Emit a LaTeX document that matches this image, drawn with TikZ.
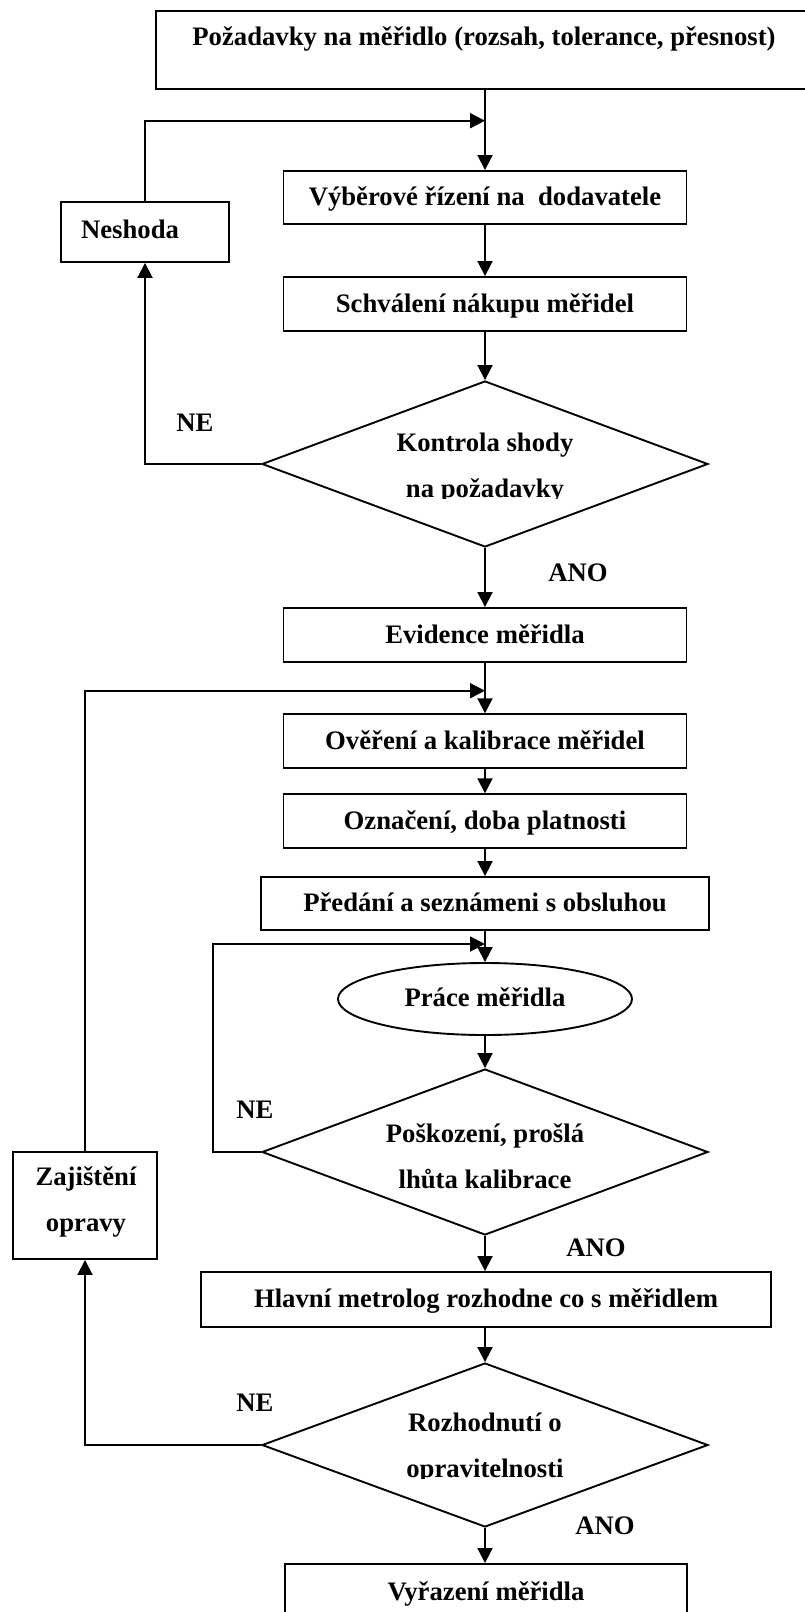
\documentclass[tikz,border=0pt]{standalone}
\usepackage{fontspec}
\setmainfont{Liberation Serif}
\usetikzlibrary{shapes.geometric,arrows.meta}
\begin{document}
\begin{tikzpicture}[x=1pt,y=-1pt,
  every node/.style={font=\fontsize{26.7}{46.5}\selectfont\bfseries},
  box/.style={draw,line width=1.9pt,rectangle,inner sep=0pt,text height=20pt,text depth=4pt},
  dia/.style={draw,line width=1.9pt,diamond,inner sep=0pt},
  ell/.style={draw,line width=1.9pt,ellipse,inner sep=0pt,text height=20pt,text depth=6pt},
  txt/.style={inner sep=0pt,align=center},
  arr/.style={line width=1.9pt,-{Triangle[length=15pt,width=15pt]}},
]
\useasboundingbox (0,0) rectangle (804,1612);
% boxes
\node[box,minimum width=650pt,minimum height=78pt] (top) at (481,50) {};
\node[txt] (toptxt) at (484,39) {Požadavky na měřidlo (rozsah, tolerance, přesnost)};
\node[box,minimum width=403pt,minimum height=53pt] (vyber) at (485,197.5) {Výběrové řízení na \ dodavatele};
\node[box,minimum width=168pt,minimum height=60pt] (nes) at (145,232) {};
\node[txt] (nestxt) at (130,229) {Neshoda};
\node[box,minimum width=403pt,minimum height=54pt] (schval) at (485,304) {Schválení nákupu měřidel};
\node[dia,minimum width=446pt,minimum height=166pt] (d1) at (485,464) {};
\begin{scope}
\clip (280,400) rectangle (700,498);
\node[txt] (d1txt) at (485,468) {Kontrola shody\\na požadavky};
\end{scope}
\node[txt] (ne1) at (195,423) {NE};
\node[txt] (ano1) at (578,573) {ANO};
\node[box,minimum width=403pt,minimum height=54pt] (evid) at (485,635) {Evidence měřidla};
\node[box,minimum width=403pt,minimum height=53.5pt] (over) at (485,741) {Ověření a kalibrace měřidel};
\node[box,minimum width=403pt,minimum height=53.5pt] (ozn) at (485,821) {Označení, doba platnosti};
\node[box,minimum width=448pt,minimum height=53pt] (pred) at (485,903.5) {Předání a seznámeni s obsluhou};
\node[ell,minimum width=294pt,minimum height=72pt] (prace) at (485,999) {Práce měřidla};
\node[dia,minimum width=446pt,minimum height=166pt] (d2) at (485,1152) {};
\node[txt] (d2txt) at (485,1156) {Poškození, prošlá\\lhůta kalibrace};
\node[txt] (ne2) at (255,1110) {NE};
\node[txt] (ano2) at (596,1248) {ANO};
\node[box,minimum width=144pt,minimum height=107pt] (zaj) at (85,1205.5) {};
\node[txt] (zajtxt) at (86,1202) {Zajištění\\opravy};
\node[box,minimum width=570pt,minimum height=55pt] (hlav) at (486,1299.5) {Hlavní metrolog rozhodne co s měřidlem};
\node[dia,minimum width=446pt,minimum height=164pt] (d3) at (485,1445) {};
\begin{scope}
\clip (280,1380) rectangle (700,1478);
\node[txt] (d3txt) at (485,1448) {Rozhodnutí o\\opravitelnosti};
\end{scope}
\node[txt] (ne3) at (255,1403) {NE};
\node[txt] (ano3) at (605,1526) {ANO};
\node[box,minimum width=402pt,minimum height=56pt] (vyr) at (486,1592) {Vyřazení měřidla};
% merge points
\coordinate (m1) at (485,120.7);
\coordinate (m2) at (485,690.7);
\coordinate (m3) at (485,944);
\coordinate (l3) at (213,1152);
% connectors
\draw[arr] (vyber.north |- top.south) -- (vyber.north);
\draw[arr] (nes.north) |- (m1);
\draw[arr] (d1.west) -| (nes.south);
\draw[arr] (vyber.south) -- (schval.north);
\draw[arr] (schval.south) -- (d1.north);
\draw[arr] (d1.south) -- (evid.north -| d1.south);
\draw[arr] (evid.south) -- (over.north);
\draw[arr] (zaj.north) |- (m2);
\draw[arr] (over.south) -- (ozn.north);
\draw[arr] (ozn.south) -- (pred.north);
\draw[arr] (pred.south) -- (prace.north);
\draw[arr] (d2.west) -- (l3) |- (m3);
\draw[arr] (prace.south) -- (d2.north);
\draw[arr] (d2.south) -- (d2.south |- hlav.north);
\draw[arr] (d2.south |- hlav.south) -- (d3.north);
\draw[arr] (d3.south) -- (d3.south |- vyr.north);
\draw[arr] (d3.west) -| (zaj.south);
\end{tikzpicture}
\end{document}
